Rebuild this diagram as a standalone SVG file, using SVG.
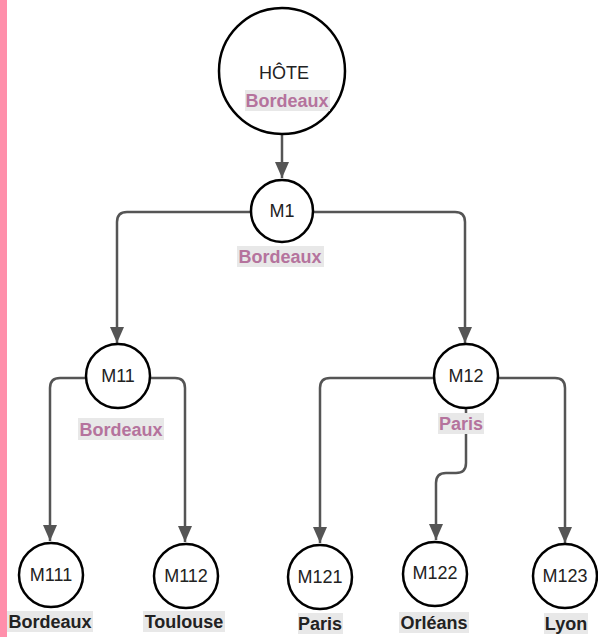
<svg xmlns="http://www.w3.org/2000/svg" width="598" height="637" viewBox="0 0 598 637">
<defs>
<style>
.c{fill:#fff;stroke:#000;stroke-width:2.5}
.t{font-family:"Liberation Sans",Arial,sans-serif;font-size:18px;fill:#222;text-anchor:middle}
.lb{font-family:"Liberation Sans",Arial,sans-serif;font-size:18px;font-weight:bold;text-anchor:middle}
.pk{fill:#B5739D}
.bk{fill:#222}
.bg{fill:#E8E8E8}
.e{fill:none;stroke:#555;stroke-width:2.5;marker-end:url(#ah)}
</style>
<marker id="ah" viewBox="0 0 16 14" refX="16" refY="7" markerWidth="16" markerHeight="14" markerUnits="userSpaceOnUse" orient="auto">
<path d="M0,0 L16,7 L0,14 Z" fill="#555"/>
</marker>
</defs>
<rect x="0" y="0" width="7" height="637" fill="#FF8FAB"/>
<g id="connectors">
<path class="e" d="M282,134 V178"/>
<path class="e" d="M251,212 H127 Q117,212 117,222 V343"/>
<path class="e" d="M313,212 H455 Q465,212 465,222 V343"/>
<path class="e" d="M86,378 H60 Q50,378 50,388 V541"/>
<path class="e" d="M150,378 H175 Q185,378 185,388 V542"/>
<path class="e" d="M434,378 H330 Q320,378 320,388 V543"/>
<path class="e" d="M498,378 H555 Q565,378 565,388 V543"/>
<path class="e" d="M466,408 V463 Q466,473 456,473 H446 Q436,473 436,483 V540"/>
</g>
<g id="hote">
<circle class="c" cx="282" cy="71" r="63"/>
<text class="t" x="284" y="79">HÔTE</text>
<rect class="bg" x="245" y="90" width="85" height="21"/>
<text class="lb pk" x="287" y="107">Bordeaux</text>
</g>
<g id="m1">
<circle class="c" cx="282" cy="211" r="31"/>
<text class="t" x="282" y="217">M1</text>
<rect class="bg" x="237" y="246" width="87" height="21"/>
<text class="lb pk" x="280" y="263">Bordeaux</text>
</g>
<g id="m11">
<circle class="c" cx="118" cy="376" r="32"/>
<text class="t" x="118" y="382">M11</text>
<rect class="bg" x="78" y="418" width="86" height="22"/>
<text class="lb pk" x="121" y="436">Bordeaux</text>
</g>
<g id="m12">
<circle class="c" cx="466" cy="376" r="32"/>
<text class="t" x="466" y="382">M12</text>
<rect class="bg" x="438" y="413" width="46" height="21"/>
<text class="lb pk" x="461" y="430">Paris</text>
</g>
<g id="m111">
<circle class="c" cx="51" cy="575" r="32"/>
<text class="t" x="51" y="581">M111</text>
<rect class="bg" x="7" y="611" width="86" height="21"/>
<text class="lb bk" x="50" y="628">Bordeaux</text>
</g>
<g id="m112">
<circle class="c" cx="186" cy="576" r="32"/>
<text class="t" x="186" y="582">M112</text>
<rect class="bg" x="143" y="611" width="82" height="21"/>
<text class="lb bk" x="184" y="628">Toulouse</text>
</g>
<g id="m121">
<circle class="c" cx="320" cy="577" r="32"/>
<text class="t" x="320" y="583">M121</text>
<rect class="bg" x="298" y="613" width="45" height="21"/>
<text class="lb bk" x="320" y="630">Paris</text>
</g>
<g id="m122">
<circle class="c" cx="435" cy="574" r="32"/>
<text class="t" x="435" y="579">M122</text>
<rect class="bg" x="399" y="612" width="70" height="21"/>
<text class="lb bk" x="434" y="629">Orléans</text>
</g>
<g id="m123">
<circle class="c" cx="565" cy="576" r="32"/>
<text class="t" x="565" y="582">M123</text>
<rect class="bg" x="544" y="613" width="44" height="21"/>
<text class="lb bk" x="566" y="630">Lyon</text>
</g>
</svg>
